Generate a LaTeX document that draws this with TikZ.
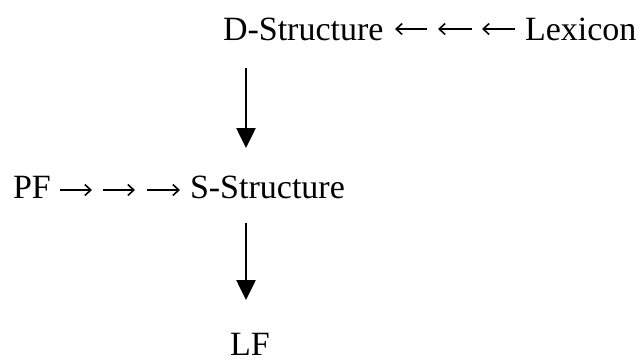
\documentclass[tikz,border=0pt]{standalone}
\usepackage{fontspec}
\setmainfont{Liberation Serif}
\usetikzlibrary{arrows.meta}
\tikzset{
  lbl/.style={inner sep=0pt, outer sep=0pt, anchor=base west, font=\fontsize{34}{40}\selectfont},
  varrow/.style={line width=2.6pt, -{Triangle[width=19pt,length=20pt]}},
  harrow/.style={line width=1.6pt, -{Straight Barb[length=6pt,width=11pt]}}
}
\begin{document}
\begin{tikzpicture}[x=1pt,y=-1pt]
\useasboundingbox[fill=white] (0,0) rectangle (642,362);
% row 1
\node[lbl] (ds)  at (223,40) {D-Structure};
\node[lbl] (lex) at (525,40) {Lexicon};
\coordinate (l1a) at (427,29); \coordinate (l1b) at (395,29);
\coordinate (l2a) at (472,29); \coordinate (l2b) at (438,29);
\coordinate (l3a) at (515,29); \coordinate (l3b) at (482,29);
\draw[harrow] (l1a) -- (l1b);
\draw[harrow] (l2a) -- (l2b);
\draw[harrow] (l3a) -- (l3b);
% row 2
\node[lbl] (pf)  at (13,198) {PF};
\node[lbl] (ss)  at (190,198) {S-Structure};
\coordinate (r1a) at (60,190);  \coordinate (r1b) at (92,190);
\coordinate (r2a) at (103,190); \coordinate (r2b) at (135,190);
\coordinate (r3a) at (147,190); \coordinate (r3b) at (180,190);
\draw[harrow] (r1a) -- (r1b);
\draw[harrow] (r2a) -- (r2b);
\draw[harrow] (r3a) -- (r3b);
% row 3
\node[lbl] (lf)  at (230,355) {LF};
% vertical connectors
\draw[varrow] ([shift={(23,28)}]ds.base west) -- ([shift={(56,-50)}]ss.base west);
\draw[varrow] ([shift={(56,25)}]ss.base west) -- ([shift={(16,-55)}]lf.base west);
\end{tikzpicture}
\end{document}
